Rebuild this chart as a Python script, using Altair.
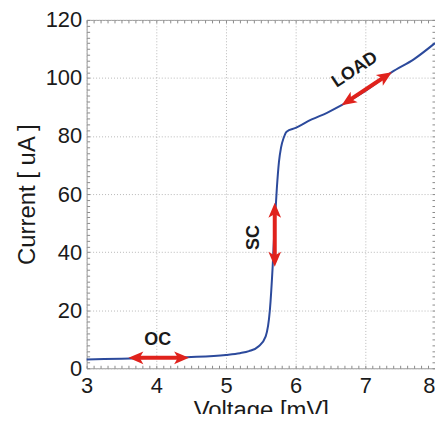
import math
import altair as alt
import pandas as pd

# ---- data ----
voltage = [3.0, 3.5, 4.0, 4.5, 5.0, 5.2, 5.33, 5.47, 5.57, 5.63, 5.67, 5.70, 5.73,
           5.76, 5.79, 5.83, 5.87, 6.0, 6.23, 6.45, 6.66, 7.0, 7.38, 7.7, 8.0]
current = [3.0, 3.3, 3.6, 3.9, 4.6, 5.2, 5.9, 7.6, 11.0, 20.0, 35.0, 50.0, 62.0,
           71.0, 76.0, 79.5, 81.5, 82.8, 85.7, 88.0, 90.6, 95.5, 102.0, 106.5, 112.0]

x_tick_values = [3, 4, 5, 6, 7, 8]
y_tick_values = [0, 20, 40, 60, 80, 100, 120]

arrow_x1 = [3.60, 5.70, 6.66]
arrow_y1 = [3.6, 35.0, 90.6]
arrow_x2 = [4.47, 5.70, 7.38]
arrow_y2 = [3.6, 57.0, 102.0]

label_text = ["OC", "SC", "LOAD"]
label_x = [4.02, 5.40, 6.85]
label_y = [9.7, 45.0, 102.8]

# ---- layout / style ----
W, H = 350, 350
X_DOM = [3, 8]
Y_DOM = [0, 120]
FONT = "Liberation Sans"
RED = "#e0221c"
BLUE = "#2c4a9c"
px_x = W / (X_DOM[1] - X_DOM[0])
px_y = H / (Y_DOM[1] - Y_DOM[0])

line_df = pd.DataFrame({"v": voltage, "i": current})

# arrow shafts (shortened so the heads cover the ends) and heads
shaft_rows, head_rows = [], []
for x1, y1, x2, y2 in zip(arrow_x1, arrow_y1, arrow_x2, arrow_y2):
    dxp = (x2 - x1) * px_x
    dyp = (y2 - y1) * px_y
    L = math.hypot(dxp, dyp)
    ux, uy = dxp / L, dyp / L
    s = 8.0
    shaft_rows.append({
        "x": x1 + ux * s / px_x, "y": y1 + uy * s / px_y,
        "x2": x2 - ux * s / px_x, "y2": y2 - uy * s / px_y,
    })
    ang = math.degrees(math.atan2(dxp, dyp)) % 360
    head_rows.append({"x": x2, "y": y2, "angle": ang})
    head_rows.append({"x": x1, "y": y1, "angle": (ang + 180) % 360})
shaft_df = pd.DataFrame(shaft_rows)
head_df = pd.DataFrame(head_rows)

# label angles follow the arrows
label_angle = []
for x1, y1, x2, y2 in zip(arrow_x1, arrow_y1, arrow_x2, arrow_y2):
    dxp = (x2 - x1) * px_x
    dyp = (y2 - y1) * px_y
    if abs(dxp) < 1e-9:
        label_angle.append(270)
    else:
        label_angle.append((-math.degrees(math.atan2(dyp, dxp))) % 360)
text_df = pd.DataFrame({"t": label_text, "x": label_x, "y": label_y, "a": label_angle})

xs = alt.Scale(domain=X_DOM, nice=False, zero=False)
ys = alt.Scale(domain=Y_DOM, nice=False, zero=False)

last_x = x_tick_values[-1]

main = alt.Chart(line_df).mark_line(color=BLUE, strokeWidth=2, interpolate="monotone").encode(
    x=alt.X("v:Q", scale=xs, axis=alt.Axis(
        orient="bottom", values=x_tick_values, title="Voltage [mV]",
        labelFont=FONT, labelFontSize=22, labelColor="#1a1a1a", labelPadding=7,
        labelAlign={"condition": {"test": f"datum.value >= {last_x}", "value": "right"},
                    "value": "center"},
        titleFont=FONT, titleFontSize=24, titleFontWeight="normal", titleColor="#1a1a1a",
        titlePadding=2, grid=True, gridDash=[1, 2], gridColor="#b8b8b8",
        ticks=False, tickSize=0, domain=False, labelFlush=False)),
    y=alt.Y("i:Q", scale=ys, axis=alt.Axis(
        orient="left", values=y_tick_values, title="Current [ uA ]",
        labelFont=FONT, labelFontSize=22, labelColor="#1a1a1a", labelPadding=5,
        titleFont=FONT, titleFontSize=24, titleFontWeight="normal", titleColor="#1a1a1a",
        titlePadding=6, grid=True, gridDash=[1, 2], gridColor="#b8b8b8",
        ticks=False, tickSize=0, domain=False, labelFlush=False)),
)


def tick_layer(xorient, yorient):
    return alt.Chart(line_df).mark_line(strokeOpacity=0).encode(
        x=alt.X("v:Q", scale=xs, axis=alt.Axis(
            orient=xorient, tickCount=50, labels=False, grid=False, domain=False,
            ticks=True, tickSize={"expr": "-3"}, tickColor="#8a8a8a", title=None)),
        y=alt.Y("i:Q", scale=ys, axis=alt.Axis(
            orient=yorient, tickCount=60, labels=False, grid=False, domain=False,
            ticks=True, tickSize={"expr": "-3"}, tickColor="#8a8a8a", title=None)),
    )


ticks_bl = tick_layer("bottom", "left")
ticks_tr = tick_layer("top", "right")

shafts = alt.Chart(shaft_df).mark_rule(color=RED, strokeWidth=4, strokeCap="butt").encode(
    x=alt.X("x:Q", scale=xs, axis=None), y=alt.Y("y:Q", scale=ys, axis=None),
    x2="x2:Q", y2="y2:Q",
)

heads = alt.Chart(head_df).mark_point(
    shape="M0,0 L0.85,2 L0,1.5 L-0.85,2 Z", filled=True, color=RED, opacity=1,
    size=225, strokeWidth=0,
).encode(
    x=alt.X("x:Q", scale=xs, axis=None), y=alt.Y("y:Q", scale=ys, axis=None),
    angle=alt.Angle("angle:Q", scale=None),
)

texts = alt.Chart(text_df).mark_text(
    font=FONT, fontSize=18, fontWeight="bold", color="#1a1a1a",
    align="center", baseline="middle",
).encode(
    x=alt.X("x:Q", scale=xs, axis=None), y=alt.Y("y:Q", scale=ys, axis=None),
    text="t:N", angle=alt.Angle("a:Q", scale=None),
)

chart = alt.layer(main, ticks_bl, ticks_tr, shafts, heads, texts).resolve_axis(
    x="independent", y="independent"
).properties(
    width=W, height=H,
    autosize=alt.AutoSizeParams(type="none"),
    padding={"left": 79, "top": 11, "right": 0, "bottom": 45},
).configure_view(stroke="#9a9a9a", strokeWidth=1)

chart.save("out.html", embed_options={"renderer": "svg", "actions": False})
